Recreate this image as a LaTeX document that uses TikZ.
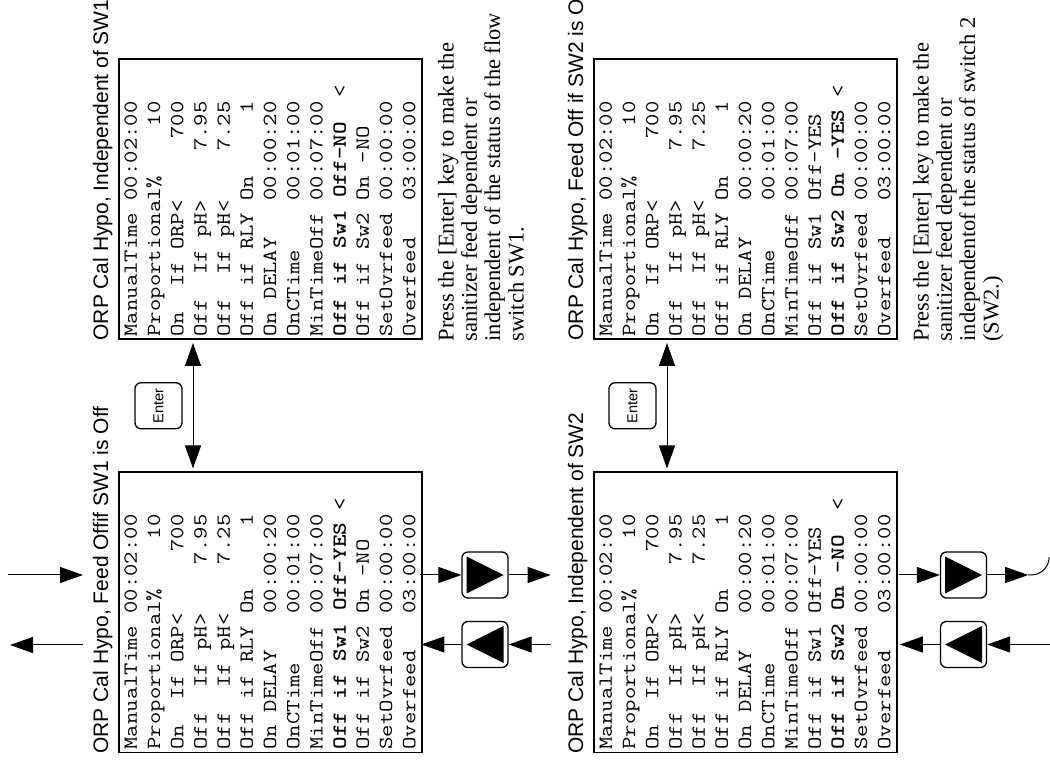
\documentclass[tikz,border=0pt]{standalone}
\usepackage{fontspec}
\setmainfont{Liberation Serif}
\newfontfamily\hvfont{Liberation Sans}
\usetikzlibrary{positioning,calc,arrows.meta}

\begin{document}
\begin{tikzpicture}[rotate=90, transform shape, x=1pt, y=-1pt, line width=1pt,
  panel/.style={draw, line width=1.5pt, minimum width=280pt, minimum height=303pt, inner sep=0pt, anchor=north west},
  ttl/.style={font=\hvfont\fontsize{21}{24}\selectfont, inner sep=0pt, anchor=base west},
  lcd/.style={font=\ttfamily\fontsize{20}{23.2}\selectfont, xscale=1.2, align=left, inner sep=0pt, anchor=north west},
  note/.style={font=\fontsize{22.5}{23.3}\selectfont, align=left, inner sep=0pt, anchor=north west},
  keycap/.style={draw, rounded corners=6pt, line width=1.3pt, minimum width=46pt, minimum height=46pt, inner sep=0pt},
  flow/.style={-{Triangle[length=23pt, width=16pt]}},
  dflow/.style={{Triangle[length=23pt, width=16pt]}-{Triangle[length=23pt, width=16pt]}}]
\useasboundingbox (0,0) rectangle (761,1050);
\newcommand{\lcdpanel}[5]{% name, u, v, title, screen lines
  \node[panel] (#1) at (#2,#3) {};
  \node[ttl] (#1t) at (#2-1,#3-10) {#4};
  \node[lcd] (#1s) at (#2+3,#3+6) {#5};}
\newcommand{\navkey}[4]{% name, u, v, 1 = down / -1 = up
  \node[keycap] (#1) at (#2,#3) {};
  \fill (#1.center) ++(-18.5,{-18.5*(#4)}) -- ++(37,0) -- ++(-18.5,{37*(#4)}) -- cycle;}
\newcommand{\lcdhead}{ManualTime 00:02:00\\ Proportional\%~~~~10\\ On~~If ORP<~~~~~700\\
  Off~~If pH>~~~~7.95\\ Off~~If pH<~~~~7.25\\ Off if RLY On~~~~~1\\ On DELAY~~~00:00:20\\
  OnCTime~~~~00:01:00\\ MinTimeOff 00:07:00\\}
\newcommand{\lcdtail}{SetOvrfeed 00:00:00\\ Overfeed~~~03:00:00}
% upper row: SW1
\lcdpanel{p1}{8}{118}{ORP Cal Hypo, Feed Offif SW1 is Off}{\lcdhead \textbf{Off if Sw1 Off-YES}~<\\ Off if Sw2 On -NO\\ \lcdtail}
\lcdpanel{p2}{421}{118}{ORP Cal Hypo, Independent of SW1}{\lcdhead \textbf{Off if Sw1 Off-NO}~~<\\ Off if Sw2 On -NO\\ \lcdtail}
% lower row: SW2
\lcdpanel{p3}{8}{593}{ORP Cal Hypo, Independent of SW2}{\lcdhead Off if Sw1 Off-YES\\ \textbf{Off if Sw2 On -NO}~~<\\ \lcdtail}
\lcdpanel{p4}{421}{593}{ORP Cal Hypo, Feed Off if SW2 is On}{\lcdhead Off if Sw1 Off-YES\\ \textbf{Off if Sw2 On -YES}~<\\ \lcdtail}
\node[note] (p2n) at ($(p2.south west)+(-2,15)$) {Press the [Enter] key to make the\\ sanitizer feed dependent or\\ independent of the status of the flow\\ switch SW1.};
\node[note] (p4n) at ($(p4.south west)+(-2,15)$) {Press the [Enter] key to make the\\ sanitizer feed dependent or\\ independentof the status of switch 2\\ (SW2.)};
% enter keys between the panels
\node[keycap, minimum height=47pt, font=\hvfont\fontsize{14.5}{16}\selectfont] (ent1) at ($(p1.north east)!0.5!(p2.north west)+(0,40.5)$) {Enter};
\node[keycap, minimum height=47pt, font=\hvfont\fontsize{14.5}{16}\selectfont] (ent2) at ($(p3.north east)!0.5!(p4.north west)+(0,39.5)$) {Enter};
\draw[dflow] ($(p1.north east)+(3,75)$) -- ($(p2.north west)+(-3,75)$);
\draw[dflow] ($(p3.north east)+(3,74)$) -- ($(p4.north west)+(-3,74)$);
% down / up keys
\navkey{dk1}{186}{485}{1}
\navkey{uk1}{116.5}{485}{-1}
\navkey{dk2}{186}{963.5}{1}
\navkey{uk2}{116.5}{963.5}{-1}
\draw[flow] (p1.north west) ++(178,-110) -- ++(0,75);
\draw[flow] (p1.north west) ++(108,-35) -- ++(0,-73);
\draw[flow] (dk1.north) ++(0,-41) -- (dk1.north);
\draw[flow] (dk1.south) -- ++(0,42);
\draw[flow] (uk1.south) ++(0,42) -- (uk1.south);
\draw[flow] (uk1.north) -- ++(0,-40);
\draw[flow] (dk2.north) ++(0,-41) -- (dk2.north);
\draw[flow] (dk2.south) -- ++(0,41) coordinate (dk2e);
\draw (dk2e) -- ++(0,3) .. controls +(0,10) and +(-10,0) .. ++(18,18);
\draw[flow] (uk2.south) ++(0,66) -- (uk2.south);
\draw[flow] (uk2.north) -- ++(0,-40);
\end{tikzpicture}
\end{document}
